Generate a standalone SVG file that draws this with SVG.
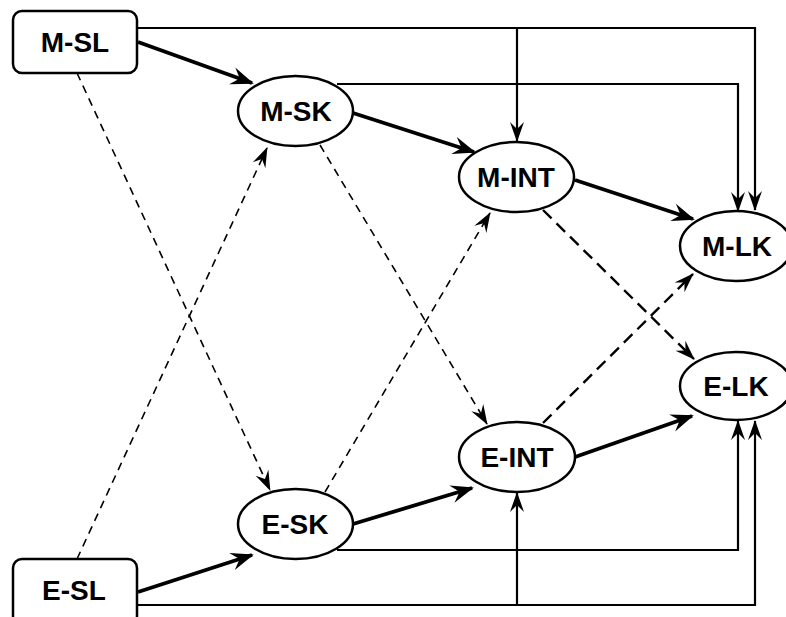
<svg xmlns="http://www.w3.org/2000/svg" width="786" height="617" viewBox="0 0 786 617">
<style>
.node rect, .node ellipse { fill: #fff; stroke: #000; stroke-width: 2.5; }
.node text { font-family: "Liberation Sans", Arial, sans-serif; font-weight: bold; font-size: 28px; text-anchor: middle; fill: #000; }
.thick { stroke: #000; stroke-width: 3.8; fill: none; marker-end: url(#ahBig); }
.thin { stroke: #000; stroke-width: 2.2; fill: none; marker-end: url(#ahSmall); }
.dash { stroke: #000; stroke-width: 1.6; fill: none; stroke-dasharray: 8 6; marker-end: url(#ahSmall); }
.dash2 { stroke: #000; stroke-width: 2.4; fill: none; stroke-dasharray: 12 7; marker-end: url(#ahSmall); }
</style>
<defs>
<marker id="ahBig" markerUnits="userSpaceOnUse" viewBox="-26 -11 30 22" refX="-2" refY="0" markerWidth="30" markerHeight="22" orient="auto">
<path d="M0,0 L-23,-9 L-15,0 L-23,9 Z" fill="#000"/>
</marker>
<marker id="ahSmall" markerUnits="userSpaceOnUse" viewBox="-24 -9 28 18" refX="-1" refY="0" markerWidth="28" markerHeight="18" orient="auto">
<path d="M0,0 L-20,-7 L-13,0 L-20,7 Z" fill="#000"/>
</marker>
</defs>
<rect width="786" height="617" fill="#fff"/>
<g id="connectors">
<line class="thick" x1="138" y1="42" x2="252" y2="83"/>
<line class="thick" x1="353" y1="113" x2="474" y2="152"/>
<line class="thick" x1="575" y1="180" x2="693" y2="219"/>
<line class="thick" x1="138" y1="592" x2="252" y2="555"/>
<line class="thick" x1="353" y1="524" x2="472" y2="488"/>
<line class="thick" x1="575" y1="457" x2="692" y2="416"/>
<polyline class="thin" points="137,28 755,28 755,210"/>
<polyline class="thin" points="517,28 517,141"/>
<polyline class="thin" points="337,84 738,84 738,211"/>
<polyline class="thin" points="337,550 738,550 738,421"/>
<polyline class="thin" points="137,605 755,605 755,421"/>
<polyline class="thin" points="517,605 517,493"/>
<line class="dash" x1="77" y1="73" x2="270" y2="490"/>
<line class="dash" x1="77" y1="559" x2="267" y2="148"/>
<line class="dash" x1="320" y1="145" x2="487" y2="424"/>
<line class="dash" x1="325" y1="492" x2="490" y2="213"/>
<line class="dash2" x1="543" y1="210" x2="694" y2="359"/>
<line class="dash2" x1="543" y1="423" x2="693" y2="274"/>
</g>
<g id="M-SL" class="node"><rect x="13" y="11" width="124" height="62" rx="9"/><text x="75" y="52">M-SL</text></g>
<g id="E-SL" class="node"><rect x="13" y="559" width="124" height="66" rx="9"/><text x="74" y="600">E-SL</text></g>
<g id="M-SK" class="node"><ellipse cx="295.5" cy="111" rx="57.5" ry="35"/><text x="296" y="121">M-SK</text></g>
<g id="M-INT" class="node"><ellipse cx="516.5" cy="177" rx="57.5" ry="35"/><text x="516" y="187">M-INT</text></g>
<g id="M-LK" class="node"><ellipse cx="736" cy="246" rx="56" ry="35"/><text x="737" y="256">M-LK</text></g>
<g id="E-LK" class="node"><ellipse cx="736" cy="386" rx="56" ry="34"/><text x="736" y="396">E-LK</text></g>
<g id="E-INT" class="node"><ellipse cx="517" cy="457" rx="58" ry="35"/><text x="517" y="467">E-INT</text></g>
<g id="E-SK" class="node"><ellipse cx="295.5" cy="524" rx="57.5" ry="35"/><text x="295" y="534">E-SK</text></g>
</svg>
